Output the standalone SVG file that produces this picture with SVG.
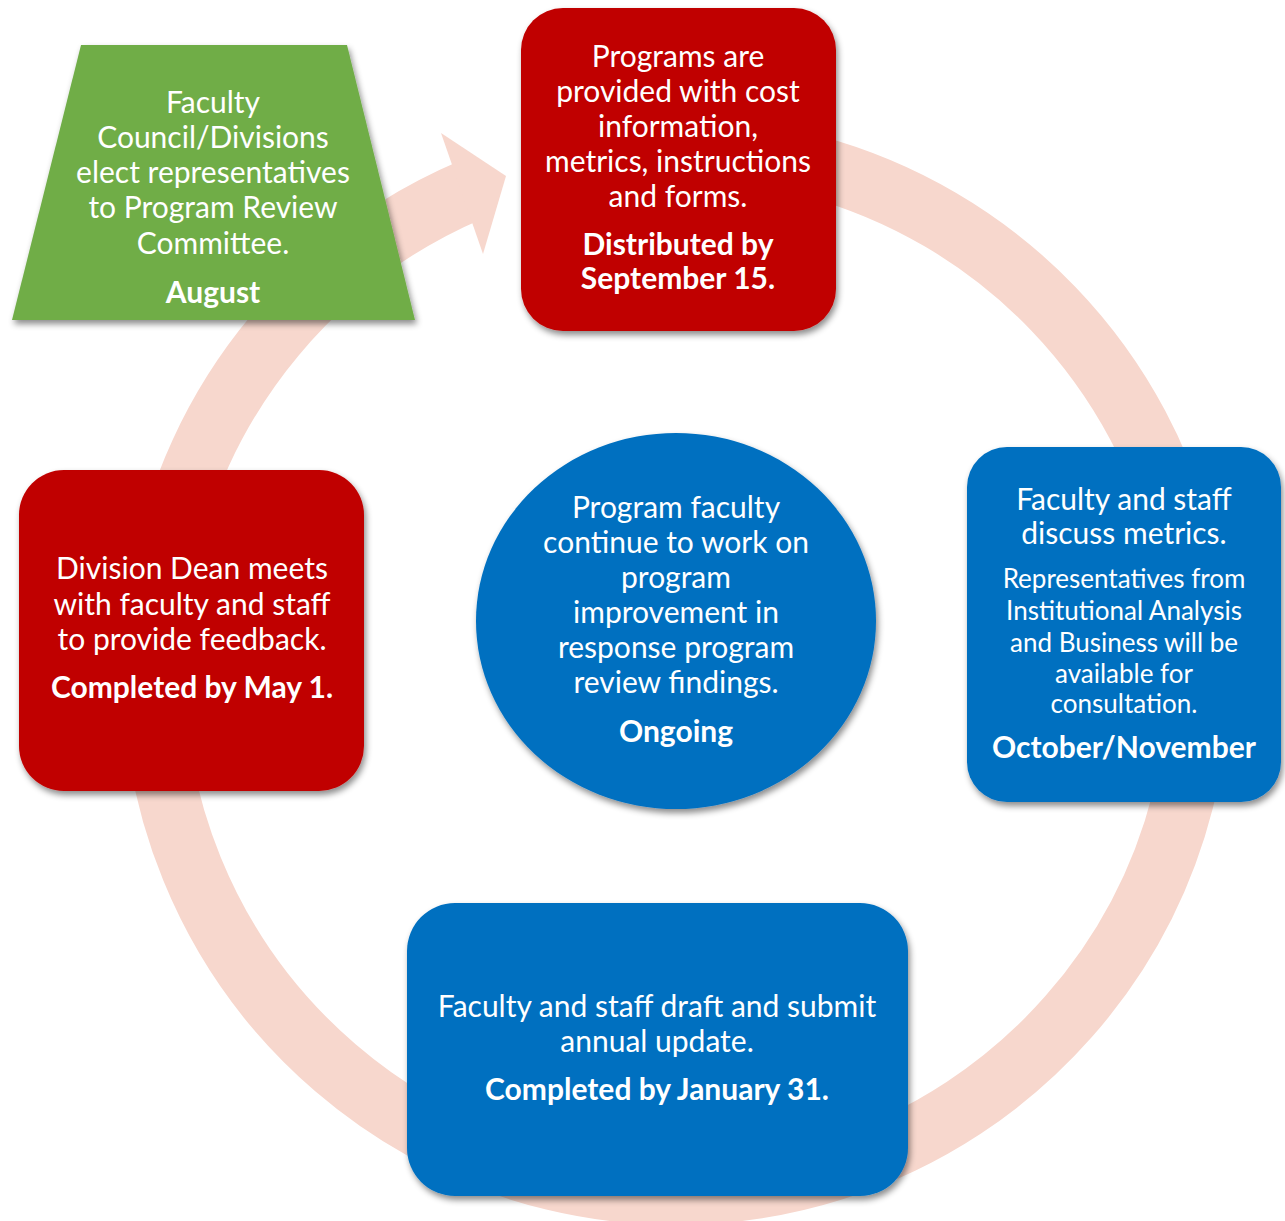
<svg xmlns="http://www.w3.org/2000/svg" width="1285" height="1221" viewBox="0 0 1285 1221">
  <style>
    text { font-family: Lato, "Liberation Sans", sans-serif; fill: #FFFFFF; text-anchor: middle; }
    .m { font-size: 30px; }
    .s { font-size: 26px; }
    .b { font-size: 30px; font-weight: bold; }
    .red { fill: #C00000; }
    .blue { fill: #0070C0; }
    .green { fill: #70AD47; }
    .ring { fill: none; stroke: #F7D7CD; stroke-width: 62; }
    .head { fill: #F7D7CD; }
  </style>
  <defs>
    <filter id="shadow" x="-10%" y="-10%" width="125%" height="125%">
      <feDropShadow dx="2" dy="4" stdDeviation="3" flood-color="#000000" flood-opacity="0.45"/>
    </filter>
  </defs>

  <!-- circular cycle arrow -->
  <g id="connectors">
    <path class="ring" d="M 567.3 159.4 A 523 523 0 1 1 471.6 189.6"/>
    <polygon class="head" points="441,133 506,176 483,254"/>
  </g>

  <!-- August: representatives elected -->
  <g id="node-august">
    <polygon class="green" filter="url(#shadow)" points="81,45 347,45 415,320 12,320"/>
    <text class="m" x="213" y="113">Faculty</text>
    <text class="m" x="213" y="148">Council/Divisions</text>
    <text class="m" x="213" y="183">elect representatives</text>
    <text class="m" x="213" y="218">to Program Review</text>
    <text class="m" x="213" y="254">Committee.</text>
    <text class="b" x="213" y="303">August</text>
  </g>

  <!-- September: materials distributed -->
  <g id="node-september">
    <rect class="red" filter="url(#shadow)" x="521" y="8" width="315" height="323" rx="42"/>
    <text class="m" x="678" y="67">Programs are</text>
    <text class="m" x="678" y="102">provided with cost</text>
    <text class="m" x="678" y="137">information,</text>
    <text class="m" x="678" y="172">metrics, instructions</text>
    <text class="m" x="678" y="207">and forms.</text>
    <text class="b" x="678" y="255">Distributed by</text>
    <text class="b" x="678" y="289">September 15.</text>
  </g>

  <!-- October/November: metrics discussion -->
  <g id="node-october">
    <rect class="blue" filter="url(#shadow)" x="967" y="447" width="314" height="355" rx="40"/>
    <text class="m" x="1124" y="510">Faculty and staff</text>
    <text class="m" x="1124" y="544">discuss metrics.</text>
    <text class="s" x="1124" y="588">Representatives from</text>
    <text class="s" x="1124" y="620">Institutional Analysis</text>
    <text class="s" x="1124" y="652">and Business will be</text>
    <text class="s" x="1124" y="683">available for</text>
    <text class="s" x="1124" y="713">consultation.</text>
    <text class="b" x="1124" y="758">October/November</text>
  </g>

  <!-- January: annual update -->
  <g id="node-january">
    <rect class="blue" filter="url(#shadow)" x="407" y="903" width="501" height="293" rx="48"/>
    <text class="m" x="657" y="1017">Faculty and staff draft and submit</text>
    <text class="m" x="657" y="1052">annual update.</text>
    <text class="b" x="657" y="1100">Completed by January 31.</text>
  </g>

  <!-- May: dean feedback -->
  <g id="node-may">
    <rect class="red" filter="url(#shadow)" x="19" y="470" width="345" height="321" rx="45"/>
    <text class="m" x="192" y="579">Division Dean meets</text>
    <text class="m" x="192" y="615">with faculty and staff</text>
    <text class="m" x="192" y="650">to provide feedback.</text>
    <text class="b" x="192" y="698">Completed by May 1.</text>
  </g>

  <!-- Ongoing: program improvement -->
  <g id="node-ongoing">
    <ellipse class="blue" filter="url(#shadow)" cx="676" cy="621" rx="200" ry="188"/>
    <text class="m" x="676" y="518">Program faculty</text>
    <text class="m" x="676" y="553">continue to work on</text>
    <text class="m" x="676" y="588">program</text>
    <text class="m" x="676" y="623">improvement in</text>
    <text class="m" x="676" y="658">response program</text>
    <text class="m" x="676" y="693">review findings.</text>
    <text class="b" x="676" y="742">Ongoing</text>
  </g>
</svg>
